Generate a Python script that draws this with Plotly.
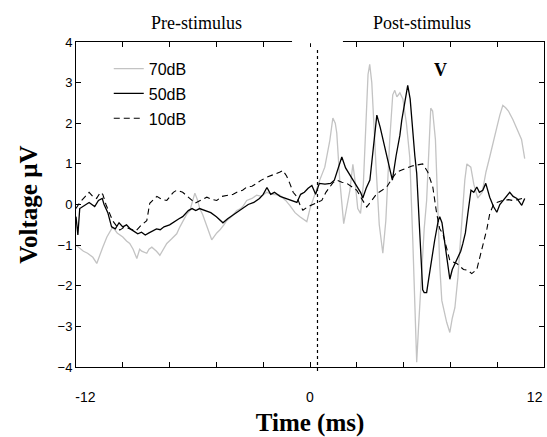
import plotly.graph_objects as go

# ---------------- data (time in ms, voltage in microvolts) ----------------
t_70 = [-12.5, -12.3, -12.1, -11.88, -11.6, -11.39, -11.2, -11.07, -10.85, -10.54,
        -10.3, -10.0, -9.8, -9.63, -9.45, -9.25, -9.1, -8.99, -8.72, -8.6,
        -8.45, -8.2, -8.02, -7.85, -7.65, -7.4, -7.12, -6.95, -6.79, -6.6,
        -6.42, -6.3, -6.15, -6.0, -5.89, -5.73, -5.46, -5.25, -4.98, -4.82,
        -4.6, -4.45, -4.2, -3.91, -3.7, -3.59, -3.38, -3.1, -2.85, -2.6,
        -2.31, -2.0, -1.61, -1.3, -1.08, -0.8, -0.54, -0.3, -0.17, 0.0,
        0.15, 0.35, 0.52, 0.79, 1.06, 1.22, 1.35, 1.43, 1.59, 1.8,
        1.95, 2.13, 2.29, 2.4, 2.55, 2.7, 2.85, 2.98, 3.1, 3.19,
        3.3, 3.52, 3.7, 3.89, 4.05, 4.26, 4.42, 4.53, 4.64, 4.8,
        4.96, 5.15, 5.33, 5.49, 5.6, 5.7, 5.8, 5.97, 6.1, 6.23,
        6.35, 6.45, 6.55, 6.7, 6.8, 6.93, 7.04, 7.3, 7.47, 7.6,
        7.74, 7.9, 8.0, 8.15, 8.27, 8.38, 8.5, 8.59, 8.75, 8.96,
        9.2, 9.4, 9.6, 9.8, 9.98, 10.14, 10.3, 10.45, 10.6, 10.83,
        11.1, 11.3, 11.47]
v_70 = [-1.0, -1.08, -1.15, -1.2, -1.3, -1.45, -1.2, -1.05, -0.8, -0.55,
        -0.7, -0.8, -0.9, -0.96, -1.1, -1.33, -1.1, -1.15, -1.2, -1.1,
        -1.05, -1.15, -1.25, -1.1, -0.96, -0.85, -0.72, -0.55, -0.4, -0.25,
        -0.15, 0.05, 0.28, 0.1, -0.1, -0.25, -0.63, -0.87, -0.7, -0.63,
        -0.5, -0.4, -0.3, -0.15, -0.1, -0.05, 0.1, 0.15, 0.23, 0.2,
        0.3, 0.25, 0.23, 0.1, -0.02, -0.2, -0.3, -0.38, -0.42, -0.1,
        0.1, 0.4, 0.6, 0.92, 1.58, 2.13, 2.0, 1.76, 0.6, -0.47,
        -0.1, 0.35, 0.99, 0.6, -0.1, -0.22, 0.5, 2.0, 3.2, 3.45,
        3.0, 1.0, -0.5, -1.2, -0.4, 1.6, 2.7, 2.81, 2.65, 2.75,
        2.6, 2.0, 1.16, -0.87, -2.5, -3.88, -3.0, -1.54, -0.6, 0.1,
        1.5, 2.37, 2.3, 1.6, 0.3, -1.5, -2.36, -2.9, -3.15, -2.8,
        -2.54, -1.8, -1.13, -0.2, 0.6, 1.0, 0.95, 0.92, 0.5, 0.16,
        0.3, 0.8, 1.17, 1.6, 1.9, 2.2, 2.44, 2.38, 2.3, 2.1,
        1.8, 1.6, 1.13]

t_50 = [-12.5, -12.4, -12.3, -12.0, -11.8, -11.5, -11.3, -11.1, -11.0, -10.8,
        -10.6, -10.4, -10.2, -10.0, -9.8, -9.6, -9.4, -9.2, -9.0, -8.8,
        -8.6, -8.4, -8.2, -8.0, -7.8, -7.5, -7.2, -7.0, -6.8, -6.5,
        -6.3, -6.1, -5.9, -5.6, -5.3, -5.0, -4.8, -4.65, -4.4, -4.1,
        -3.9, -3.6, -3.3, -3.0, -2.7, -2.5, -2.3, -2.1, -1.9, -1.6,
        -1.3, -1.0, -0.7, -0.5, -0.3, -0.1, 0.1, 0.3, 0.5, 0.8,
        1.1, 1.3, 1.5, 1.7, 1.9, 2.1, 2.3, 2.5, 2.7, 2.82,
        3.0, 3.2, 3.4, 3.57, 3.75, 3.9, 4.1, 4.2, 4.4, 4.6,
        4.8, 4.9, 5.05, 5.22, 5.35, 5.45, 5.6, 5.7, 5.8, 5.9,
        5.97, 6.02, 6.1, 6.23, 6.35, 6.5, 6.66, 6.85, 6.93, 7.05,
        7.1, 7.31, 7.47, 7.6, 7.75, 7.9, 8.05, 8.16, 8.3, 8.43,
        8.54, 8.6, 8.75, 8.91, 9.05, 9.23, 9.39, 9.6, 9.8, 9.98,
        10.14, 10.3, 10.5, 10.67, 10.85, 11.05, 11.2, 11.31, 11.47]
v_50 = [-0.3, -0.75, -0.1, 0.0, 0.05, -0.05, 0.1, 0.15, 0.0, -0.2,
        -0.55, -0.6, -0.45, -0.55, -0.5, -0.6, -0.65, -0.72, -0.68, -0.75,
        -0.7, -0.65, -0.6, -0.62, -0.55, -0.5, -0.4, -0.35, -0.3, -0.15,
        -0.1, -0.15, -0.1, -0.15, -0.2, -0.3, -0.4, -0.45, -0.35, -0.25,
        -0.2, -0.1, 0.0, 0.05, 0.15, 0.25, 0.42, 0.25, 0.3, 0.2,
        0.15, 0.1, 0.05, 0.25, 0.3, 0.4, 0.47, 0.25, 0.52, 0.5,
        0.52, 0.6, 0.9, 1.17, 0.9, 0.75, 0.6, 0.43, 0.3, 0.16,
        0.4, 0.6, 1.4, 2.2, 1.9, 1.6, 1.2, 0.92, 0.6, 1.2,
        1.7, 2.07, 2.5, 2.93, 2.6, 2.0, 1.2, 0.77, -0.2, -0.87,
        -1.54, -2.1, -2.17, -2.17, -1.8, -1.3, -0.88, -0.4, -0.3, -0.45,
        -0.63, -1.3, -1.84, -1.6, -1.45, -1.3, -1.15, -0.97, -0.7, -0.23,
        0.1, 0.35, 0.3, 0.43, 0.3, 0.35, 0.52, 0.18, -0.05, -0.19,
        0.0, 0.1, 0.2, 0.3, 0.2, 0.15, 0.05, -0.02, 0.15]

t_10 = [-12.5, -12.3, -12.0, -11.8, -11.6, -11.4, -11.2, -11.07, -10.9, -10.7,
        -10.54, -10.3, -10.16, -9.9, -9.6, -9.3, -9.0, -8.72, -8.56, -8.3,
        -8.18, -7.9, -7.65, -7.3, -7.12, -6.8, -6.58, -6.3, -6.15, -5.8,
        -5.51, -5.2, -4.98, -4.7, -4.45, -4.1, -3.91, -3.6, -3.38, -3.1,
        -2.85, -2.6, -2.31, -2.0, -1.78, -1.6, -1.45, -1.25, -1.08, -0.9,
        -0.71, -0.5, -0.38, -0.1, 0.15, 0.4, 0.63, 0.85, 1.06, 1.25,
        1.43, 1.7, 1.97, 2.2, 2.5, 2.75, 3.03, 3.3, 3.57, 3.85,
        4.1, 4.4, 4.64, 4.9, 5.17, 5.45, 5.7, 6.02, 6.29, 6.56,
        6.77, 6.93, 7.1, 7.3, 7.47, 7.84, 8.2, 8.43, 8.64, 8.91,
        9.07, 9.23, 9.45, 9.6, 9.8, 9.98, 10.3, 10.6, 10.83, 11.1,
        11.36]
v_10 = [-0.1, 0.05, 0.2, 0.3, 0.2, 0.15, 0.3, 0.25, 0.0, -0.2,
        -0.4, -0.55, -0.63, -0.55, -0.6, -0.65, -0.5, -0.4, 0.03, 0.15,
        0.2, 0.12, 0.1, 0.3, 0.35, 0.3, 0.22, 0.1, 0.03, 0.12,
        0.18, 0.12, 0.1, 0.2, 0.22, 0.25, 0.3, 0.35, 0.43, 0.45,
        0.52, 0.6, 0.67, 0.72, 0.77, 0.8, 0.84, 0.7, 0.52, 0.3,
        0.2, -0.05, -0.14, -0.05, 0.0, 0.05, 0.1, 0.3, 0.43, 0.55,
        0.6, 0.55, 0.52, 0.45, 0.35, 0.15, -0.06, 0.1, 0.27, 0.35,
        0.43, 0.65, 0.8, 0.85, 0.9, 0.95, 0.97, 1.0, 0.8, 0.43,
        -0.23, -0.6, -0.72, -1.1, -1.38, -1.45, -1.6, -1.62, -1.7, -1.6,
        -1.3, -0.97, -0.6, -0.23, 0.0, 0.05, 0.1, 0.12, 0.1, 0.12,
        0.15]

series_names = ["70dB", "50dB", "10dB"]
x_ticklabel_vals = [-12, 0, 12]
x_ticklabel_text = ["-12", "0", "12"]
x_minor_ticks = [-12.5, -10, -7.5, -5, -2.5, 0, 2.5, 5, 7.5, 10, 12.5]
y_ticks = [-4, -3, -2, -1, 0, 1, 2, 3, 4]
stim_onset = 0.4
x_range = [-12.5, 12.5]
y_range = [-4, 4]

SERIF = "Liberation Serif, Times New Roman, serif"
SANS = "Liberation Sans, Arial, sans-serif"

fig = go.Figure()
fig.add_trace(go.Scatter(x=t_70, y=v_70, mode="lines", name=series_names[0],
                         line=dict(color="#c3c3c3", width=1.3), legendgroup="a"))
fig.add_trace(go.Scatter(x=t_50, y=v_50, mode="lines", name=series_names[1],
                         line=dict(color="black", width=1.3), legendgroup="b"))
fig.add_trace(go.Scatter(x=t_10, y=v_10, mode="lines", name=series_names[2],
                         line=dict(color="black", width=1.1, dash="6px,4px"),
                         legendgroup="c", xaxis="x2"))

fig.update_layout(
    width=547, height=437,
    margin=dict(l=76, r=3, t=42, b=70),
    paper_bgcolor="white", plot_bgcolor="white",
    font=dict(family=SANS, size=14, color="black"),
    xaxis=dict(range=x_range, tickmode="array", tickvals=x_minor_ticks,
               showticklabels=False, ticks="inside", ticklen=5, tickcolor="black",
               showline=True, linecolor="black", linewidth=1, mirror="ticks",
               showgrid=False, zeroline=False,
               title=dict(text="Time (ms)", font=dict(family=SERIF, size=25, weight="bold"),
                          standoff=48)),
    xaxis2=dict(range=x_range, overlaying="x", side="bottom", anchor="y",
                tickmode="array", tickvals=x_ticklabel_vals, ticktext=x_ticklabel_text,
                ticks="", showline=False, showgrid=False, zeroline=False,
                ticklabelstandoff=20, tickfont=dict(family=SANS, size=14)),
    yaxis=dict(range=y_range, tickmode="array", tickvals=y_ticks,
               ticks="inside", ticklen=5, tickcolor="black",
               showline=True, linecolor="black", linewidth=1, mirror="ticks",
               showgrid=False, zeroline=False, tickfont=dict(family=SANS, size=13),
               title=dict(text="Voltage µV", font=dict(family=SERIF, size=25, weight="bold"),
                          standoff=12)),
    legend=dict(x=0.07, y=0.97, xanchor="left", yanchor="top",
                bgcolor="rgba(0,0,0,0)", font=dict(family=SANS, size=16),
                tracegroupgap=1),
    showlegend=True,
)

# stimulus onset marker
fig.add_shape(type="line", xref="x", yref="paper", x0=stim_onset, x1=stim_onset,
              y0=-0.012, y1=0.98, line=dict(color="black", width=1.2, dash="dot"))
# gap in the top frame around the onset
fig.add_shape(type="rect", xref="x", yref="paper", x0=-0.96, x1=1.76,
              y0=0.996, y1=1.012, line=dict(width=0), fillcolor="white", layer="above")

fig.add_annotation(text="Pre-stimulus", xref="paper", yref="paper", x=(196 - 76) / 468,
                   y=1.022, showarrow=False, font=dict(family=SERIF, size=18),
                   xanchor="center", yanchor="bottom")
fig.add_annotation(text="Post-stimulus", xref="paper", yref="paper", x=(422 - 76) / 468,
                   y=1.022, showarrow=False, font=dict(family=SERIF, size=18),
                   xanchor="center", yanchor="bottom")
fig.add_annotation(text="<b>V</b>", xref="x", yref="y", x=6.97, y=3.3, showarrow=False,
                   font=dict(family=SERIF, size=18))

fig.write_html("out.html", config={"displayModeBar": False},
               post_script="document.body.style.margin='0px';")
